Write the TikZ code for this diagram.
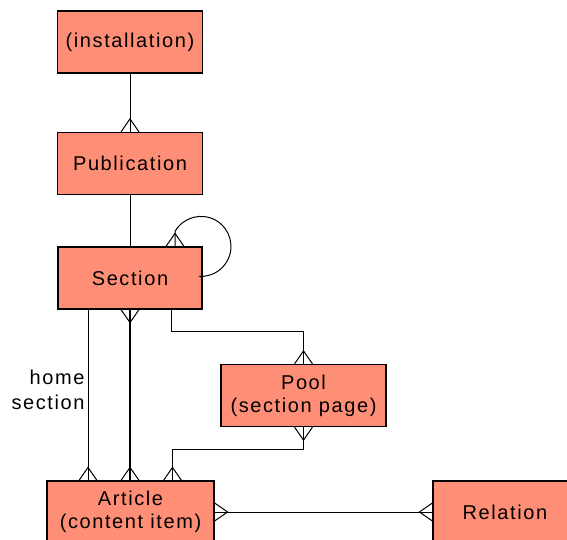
\documentclass[tikz,border=0pt]{standalone}
\usepackage{fontspec}
\setmainfont{Liberation Sans}[LetterSpace=8]
\usetikzlibrary{calc}
\definecolor{entityfill}{RGB}{255,142,118}
\begin{document}
\begin{tikzpicture}[x=1pt, y=1pt,
        entity/.style={draw, line width=1.2pt, fill=entityfill, inner sep=0pt,
            minimum width=145pt, minimum height=62pt, align=center,
            font=\fontsize{20}{23}\selectfont},
        link/.style={line width=1pt},
        rolename/.style={left, align=right, inner sep=3pt, font=\fontsize{20}{25}\selectfont},
        crow/.pic={\draw[link] (0,-9) -- (13,0) -- (0,9);}]
    \useasboundingbox (0,0) rectangle (567,539);
    \node(inst) at (130,497)   [entity]                     {(installation)};
    \node(pub)  at (130,375.5) [entity]                     {Publication};
    \node(sec)  at (130,261)   [entity, minimum width=144pt] {Section};
    \node(pool) at (303.5,143.5) [entity, minimum width=165pt] {Pool\\(section page)};
    \node(art)  at (130.5,27)  [entity, minimum width=167pt] {Article\\(content item)};
    \node(rel)  at (505,27)    [entity, minimum width=144pt] {Relation};
    % installation - publication - section
    \draw[link] (inst.south) -- (pub.north);
    \pic[rotate=90] at (pub.north) {crow};
    \draw[link] (pub.south) -- (sec.north);
    % parent section
    \draw[link] ([xshift=45pt]sec.north) -- ++(0,15) arc[start angle=150, end angle=-92, radius=30] -- (sec.east);
    \pic[rotate=90] at ([xshift=45pt]sec.north) {crow};
    % section - article
    \draw[link] ([xshift=-42pt]sec.south) -- node[rolename, pos=0.47] {home\\section} ([xshift=-42pt]sec.south |- art.north);
    \pic[rotate=90] at ([xshift=-42pt]sec.south |- art.north) {crow};
    \draw[link, line width=1.4pt] (sec.south) -- (sec.south |- art.north);
    \pic[rotate=-90] at (sec.south) {crow};
    \pic[rotate=90] at (sec.south |- art.north) {crow};
    % section - pool - article
    \draw[link] ([xshift=41pt]sec.south) -- ++(0,-22) -| (pool.north);
    \pic[rotate=90] at (pool.north) {crow};
    \draw[link] (pool.south) -- ++(0,-22) -| ([xshift=42pt]art.north);
    \pic[rotate=-90] at (pool.south) {crow};
    \pic[rotate=90] at ([xshift=42pt]art.north) {crow};
    % article - relation
    \draw[link] (art.east) -- (rel.west);
    \pic at (art.east) {crow};
    \pic[rotate=180] at (rel.west) {crow};
\end{tikzpicture}
\end{document}
